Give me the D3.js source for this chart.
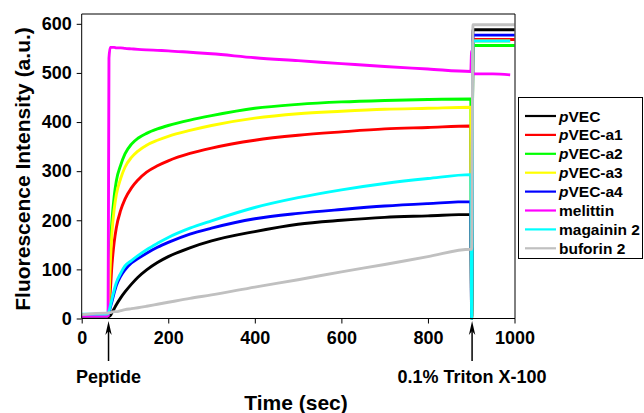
<!DOCTYPE html>
<html><head><meta charset="utf-8">
<script src="https://cdn.jsdelivr.net/npm/d3@7"></script>
<style>
body{margin:0;background:#fff;}
text{font-family:"Liberation Sans",Arial,Helvetica,sans-serif;font-weight:bold;fill:#000;}
</style></head>
<body>
<svg id="chart" width="644" height="413"></svg>
<script>
// time (sec)
const times = [0, 58, 61, 63, 66, 70, 75, 80, 90, 100, 115, 130, 150, 175, 200, 250, 300, 400, 500, 600, 700, 800, 899, 901, 904, 950, 990, 1000];
const pVEC      = [5,5,4,4,6,12,20,28,42,54, 70,84,99,114,126,144,158,177,192,200, 206,209,212,0,588,588,588,588];
const pVEC_a1   = [5,5,5,20,55,110,155,185,220,243, 266,282,298,311,321,336,347,363,373,380, 386,389,392,0,568,568,568,568];
const pVEC_a2   = [5,5,8,60,140,200,248,280,312,335, 355,367,377,386,393,404,413,428,436,441, 444,446,447,0,556,556,556,556];
const pVEC_a3   = [5,5,6,40,110,175,222,252,285,308, 328,341,353,363,371,383,393,408,417,422, 426,428,430,0,565,565,565,null];
const pVEC_a4   = [5,5,6,12,22,35,52,67,86,99, 113,122,133,145,155,172,184,203,214,222, 229,234,238,0,577,577,577,577];
const melittin  = [5,5,6,530,552,552,552,551,551,550, 549,548,547,546,545,542,539,531,525,519, 513,508,503,545,498,498,496,null];
const magainin2 = [9,9,10,15,25,40,58,73,92,107, 118,128,140,153,165,184,199,226,246,262, 275,285,293,0,565,565,565,null];
const buforin2  = [8,11,11,12,12,13,14,14,16,18, 20,22,25,29,33,41,48,64,79,95, 110,126,141,141,598,598,598,598];

const seriesNames = ["pVEC","pVEC-a1","pVEC-a2","pVEC-a3","pVEC-a4","melittin","magainin 2","buforin 2"];
const seriesValues = [pVEC,pVEC_a1,pVEC_a2,pVEC_a3,pVEC_a4,melittin,magainin2,buforin2];
const seriesColors = ["#000000","#ff0000","#00ff00","#ffff00","#0000ff","#ff00ff","#00ffff","#c0c0c0"];

const xTicks = [0,200,400,600,800,1000];
const yTicks = [0,100,200,300,400,500,600];
const xTitle = "Time (sec)";
const yTitle = "Fluorescence Intensity (a.u.)";
const annotations = [{t:62, label:"Peptide"},{t:902, label:"0.1% Triton X-100"}];

const svg = d3.select("#chart");
const L = 81.7, R = 514.5, T = 14, B = 318.5;
const x = d3.scaleLinear().domain([0,1000]).range([L,R]);
const y = d3.scaleLinear().domain([0,620]).range([B,T]);

// series
const line = d3.line()
  .defined(d => d[1] !== null)
  .x(d => x(d[0])).y(d => y(d[1]))
  .curve(d3.curveMonotoneX);
seriesValues.forEach((vals,i) => {
  const pts = times.map((t,j) => [t, vals[j]]);
  svg.append("path").attr("d", line(pts))
    .attr("fill","none").attr("stroke",seriesColors[i])
    .attr("stroke-width",2.9).attr("stroke-linejoin","round");
});

// axes
const gx = svg.append("g").attr("transform",`translate(0,${B})`)
  .call(d3.axisBottom(x).tickValues(xTicks).tickFormat(d3.format("d")).tickSize(5).tickSizeOuter(0).tickPadding(7.5));
const gy = svg.append("g").attr("transform",`translate(${L},0)`)
  .call(d3.axisLeft(y).tickValues(yTicks).tickFormat(d3.format("d")).tickSize(5).tickSizeOuter(0).tickPadding(5));
[gx,gy].forEach(g => {
  g.selectAll("text").style("font-size","18px").style("font-family",'"Liberation Sans",Arial,sans-serif').style("font-weight","bold").attr("fill","#000");
  g.selectAll("line,path").attr("stroke","#000").attr("stroke-width",1);
});
gy.select(".domain").attr("d",`M0,${B}V${T}`);
gx.select(".domain").attr("d",`M${L},0H${R+0.5}`);
// frame top/right
svg.append("path").attr("d",`M${L},${T}H${R+0.5}V${B}`).attr("fill","none").attr("stroke","#000").attr("stroke-width",1);

// titles
svg.append("text").attr("x",296).attr("y",410).attr("text-anchor","middle").style("font-size","21px").text(xTitle);
svg.append("text").attr("transform","translate(30,169) rotate(-90)").attr("text-anchor","middle").style("font-size","21px").text(yTitle);

// annotations with arrows
annotations.forEach(a => {
  const ax = x(a.t);
  svg.append("line").attr("x1",ax).attr("x2",ax).attr("y1",329).attr("y2",361).attr("stroke","#000").attr("stroke-width",1.5);
  svg.append("path").attr("d",`M${ax},321L${ax-3.2},335L${ax},331L${ax+3.2},335Z`).attr("fill","#000");
  svg.append("text").attr("x",ax).attr("y",383).attr("text-anchor","middle").style("font-size","18px").text(a.label);
});

// legend
const lg = svg.append("g");
lg.append("rect").attr("x",518.5).attr("y",97.5).attr("width",124).attr("height",161).attr("fill","#fff").attr("stroke","#000").attr("stroke-width",1);
seriesNames.forEach((n,i) => {
  const yy = 116 + i*18.9;
  lg.append("line").attr("x1",525).attr("x2",556).attr("y1",yy).attr("y2",yy).attr("stroke",seriesColors[i]).attr("stroke-width",2.2);
  const t = lg.append("text").attr("x",559).attr("y",yy).attr("dy","0.36em").style("font-size","15.5px");
  if (n.startsWith("pVEC")) {
    t.append("tspan").style("font-style","italic").text("p");
    t.append("tspan").text(n.slice(1));
  } else t.text(n);
});
</script>
</body></html>
